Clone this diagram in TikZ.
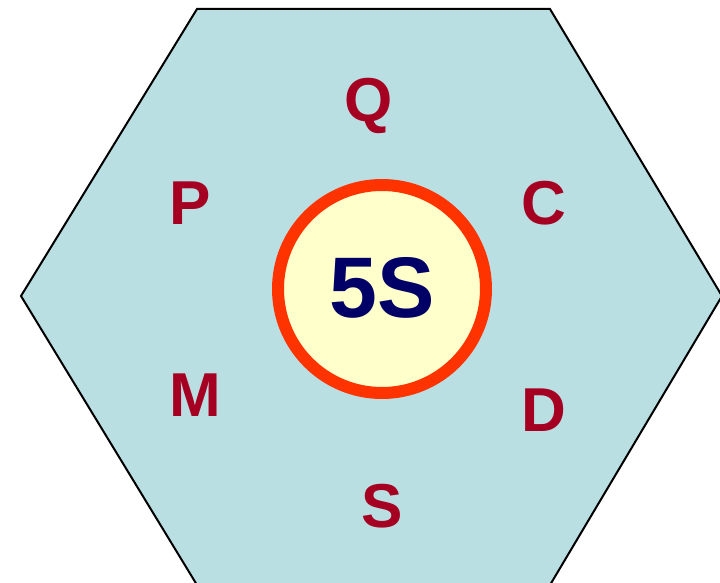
\documentclass[tikz,border=0pt]{standalone}
\usepackage{fontspec}
\setmainfont{Liberation Sans}
\definecolor{hexfill}{HTML}{B9DFE3}
\definecolor{ringred}{HTML}{FF3300}
\definecolor{corefill}{HTML}{FFFFCC}
\definecolor{letterred}{HTML}{A50021}
\definecolor{navy}{HTML}{000066}
\begin{document}
\begin{tikzpicture}[x=1pt, y=1pt,
            letter/.style={inner sep=0pt, text=letterred, font=\fontsize{62}{62}\selectfont\bfseries},
            core/.style={circle, draw=ringred, line width=12pt, fill=corefill, minimum size=208pt, inner sep=0pt}
        ]
            \useasboundingbox (0,0) rectangle (720,583);
            \fill[hexfill] (197,574) -- (550,574) -- (722,287) -- (550,-2) -- (197,-2) -- (21,287) -- cycle;
            \draw[line width=2pt, line join=miter] (197,-2) -- (21,287) -- (197,574) -- (550,574) -- (722,287) -- (550,-2);

            \node[core] (five) at (382, 294) {};
            \node[text=navy, inner sep=0pt, font=\fontsize{86}{86}\selectfont\bfseries] (fivelabel) at (382, 295) {5S};

            \node[letter] (q) at (369, 477) {Q};
            \node[letter] (p) at (190, 380) {P};
            \node[letter] (c) at (544, 380) {C};
            \node[letter] (m) at (195, 188) {M};
            \node[letter] (d) at (544, 173) {D};
            \node[letter] (s) at (382, 77) {S};
        \end{tikzpicture}
\end{document}
